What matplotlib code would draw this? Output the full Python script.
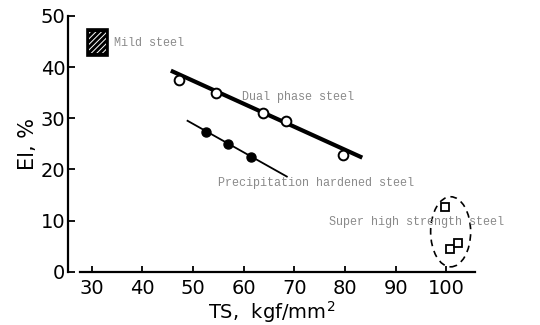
import numpy as np
import matplotlib
matplotlib.use("Agg")
import matplotlib.pyplot as plt
from matplotlib.patches import Ellipse, Rectangle

# Dual phase steel (open circles) and its fitted line
dual_ts = [47.3, 54.6, 63.7, 68.4, 79.5]
dual_el = [37.5, 35.0, 31.0, 29.5, 22.8]
dual_fit_ts = [45.6, 83.4]
dual_fit_el = [39.3, 22.3]

# Precipitation hardened steel (filled circles) and its line
prec_ts = [52.5, 56.9, 61.4]
prec_el = [27.3, 24.9, 22.4]
prec_fit_ts = [48.9, 68.5]
prec_fit_el = [29.5, 18.6]

# Super high strength steel (open squares)
shs_ts = [99.7, 100.8, 102.3]
shs_el = [12.7, 4.4, 5.7]

# Mild steel box (ts range, el range)
mild_ts = [29.1, 33.2]
mild_el = [42.2, 47.4]

xticks = [30, 40, 50, 60, 70, 80, 90, 100]
yticks = [0, 10, 20, 30, 40, 50]

fig = plt.figure(figsize=(5.4, 3.25), dpi=100)
ax = fig.add_axes([0.126, 0.164, 0.754, 0.787])

ax.plot(dual_fit_ts, dual_fit_el, color="black", lw=3.0, solid_capstyle="butt")
ax.plot(dual_ts, dual_el, "o", ms=7, mfc="white", mec="black", mew=1.4)

ax.plot(prec_fit_ts, prec_fit_el, color="black", lw=1.3)
ax.plot(prec_ts, prec_el, "o", ms=6.5, mfc="black", mec="black")

ax.plot(shs_ts, shs_el, "s", ms=6, mfc="white", mec="black", mew=1.3)
ax.add_patch(Ellipse((100.85, 7.8), 7.9, 13.7, fill=False, ls=(0, (4, 3)),
                     lw=1.2, color="black"))

# hatched mild steel box
ax.add_patch(Rectangle((mild_ts[0], mild_el[0]), mild_ts[1] - mild_ts[0],
                       mild_el[1] - mild_el[0], facecolor="black", edgecolor="black",
                       lw=1.2, clip_on=False))
plt.rcParams["hatch.linewidth"] = 0.7
ax.add_patch(Rectangle((mild_ts[0] + 0.4, mild_el[0] + 0.5), mild_ts[1] - mild_ts[0] - 0.8,
                       mild_el[1] - mild_el[0] - 1.0, fill=False, hatch="//////",
                       edgecolor="white", lw=0, clip_on=False))

lab = dict(family="Liberation Mono", fontsize=8.5, color="#8a8a8a", clip_on=False)
ax.text(34.4, 44.7, "Mild steel", va="center", **lab)
ax.text(59.7, 34.2, "Dual phase steel", va="center", **lab)
ax.text(55.0, 17.4, "Precipitation hardened steel", va="center", **lab)
ax.text(76.8, 9.8, "Super high strength steel", va="center", **lab)

ax.set_xlim(25.3, 105.7)
ax.set_ylim(0, 50)
for s in ["top", "right"]:
    ax.spines[s].set_visible(False)
ax.spines["left"].set_linewidth(1.6)
ax.spines["bottom"].set_linewidth(1.6)
ax.spines["bottom"].set_bounds(27.7, 105.7)
ax.set_xticks(xticks)
ax.set_yticks(yticks)
ax.tick_params(axis="both", direction="in", labelsize=14, width=1.3)
ax.tick_params(axis="x", length=4, pad=5)
ax.tick_params(axis="y", length=5, pad=2)

ax.set_xlabel("TS,  kgf/mm$^2$", fontsize=14, labelpad=1)
ax.set_ylabel("El, %", fontsize=15, labelpad=2)

fig.savefig("out.png", dpi=100)
